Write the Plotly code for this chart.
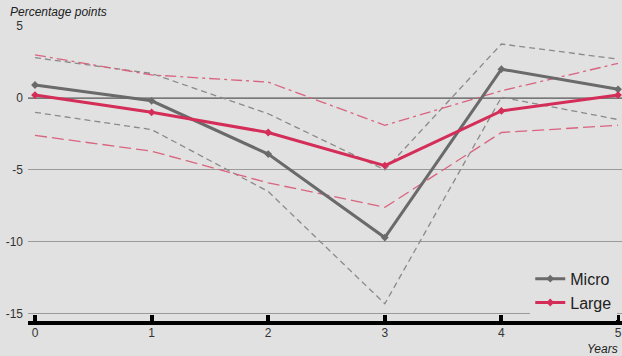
import plotly.graph_objects as go

years = [0, 1, 2, 3, 4, 5]

micro = [0.9, -0.2, -3.9, -9.7, 2.0, 0.6]
micro_upper = [2.8, 1.7, -1.1, -5.0, 3.75, 2.7]
micro_lower = [-1.0, -2.2, -6.5, -14.3, 0.05, -1.5]

large = [0.2, -1.0, -2.4, -4.7, -0.9, 0.2]
large_upper = [3.0, 1.6, 1.1, -1.9, 0.5, 2.4]
large_lower = [-2.6, -3.7, -5.9, -7.6, -2.4, -1.9]

y_ticks = [5, 0, -5, -10, -15]

BG = "#e1e1e1"
GREY = "#6a6a6a"
RED = "#d42e58"
GREY_BAND = "#8a8a8a"
RED_BAND = "#d9647f"

fig = go.Figure()

# confidence bands
fig.add_trace(go.Scatter(x=years, y=micro_upper, mode="lines", showlegend=False,
                         line=dict(color=GREY_BAND, width=1.3, dash="6px,4px")))
fig.add_trace(go.Scatter(x=years, y=micro_lower, mode="lines", showlegend=False,
                         line=dict(color=GREY_BAND, width=1.3, dash="6px,4px")))
fig.add_trace(go.Scatter(x=years, y=large_upper, mode="lines", showlegend=False,
                         line=dict(color=RED_BAND, width=1.3, dash="11px,4px,3px,4px")))
fig.add_trace(go.Scatter(x=years, y=large_lower, mode="lines", showlegend=False,
                         line=dict(color=RED_BAND, width=1.3, dash="12px,5px")))

# point estimates
fig.add_trace(go.Scatter(x=years, y=micro, mode="lines+markers", name="Micro",
                         line=dict(color=GREY, width=3),
                         marker=dict(symbol="diamond", size=6, color=GREY)))
fig.add_trace(go.Scatter(x=years, y=large, mode="lines+markers", name="Large",
                         line=dict(color=RED, width=3),
                         marker=dict(symbol="diamond", size=6, color=RED)))

# zero line, drawn darker than the other gridlines
fig.add_shape(type="line", xref="paper", x0=0, x1=1, yref="y", y0=0, y1=0,
              line=dict(color="#555555", width=1.5), layer="below")

fig.update_layout(
    width=622, height=356,
    margin=dict(l=28, r=0, t=26, b=35),
    paper_bgcolor=BG, plot_bgcolor=BG,
    font=dict(family="Liberation Sans, Arial, sans-serif", size=12, color="#333333"),
    legend=dict(x=0.992, y=0.004, xanchor="right", yanchor="bottom",
                bgcolor=BG, font=dict(size=16, color="#222222"),
                itemwidth=30, tracegroupgap=0),
    annotations=[
        dict(text="<i>Percentage points</i>", xref="paper", yref="paper",
             x=-0.034, y=1.0, xanchor="left", yanchor="bottom", yshift=5,
             showarrow=False, font=dict(size=12, color="#222222")),
        dict(text="<i>Years</i>", xref="paper", yref="paper",
             x=1.0, y=0, xanchor="right", yanchor="top", yshift=-19, xshift=-2,
             showarrow=False, font=dict(size=12, color="#222222")),
    ],
)

fig.update_xaxes(
    range=[-0.06, 5.034], tickvals=years, ticktext=[str(v) for v in years],
    showgrid=False, zeroline=False,
    showline=True, linecolor="#000000", linewidth=4,
    ticks="inside", ticklen=6, tickwidth=4, tickcolor="#000000",
    tickfont=dict(size=12, color="#333333"), ticklabelstandoff=-2,
)
fig.update_yaxes(
    range=[-15.5, 5], tickvals=y_ticks, ticktext=[str(v) for v in y_ticks],
    showgrid=True, gridcolor="#9a9a9a", gridwidth=1.2, zeroline=False,
    showline=False, ticks="", ticklabelstandoff=4,
    tickfont=dict(size=12, color="#333333"),
)

fig.write_html("out.html")
